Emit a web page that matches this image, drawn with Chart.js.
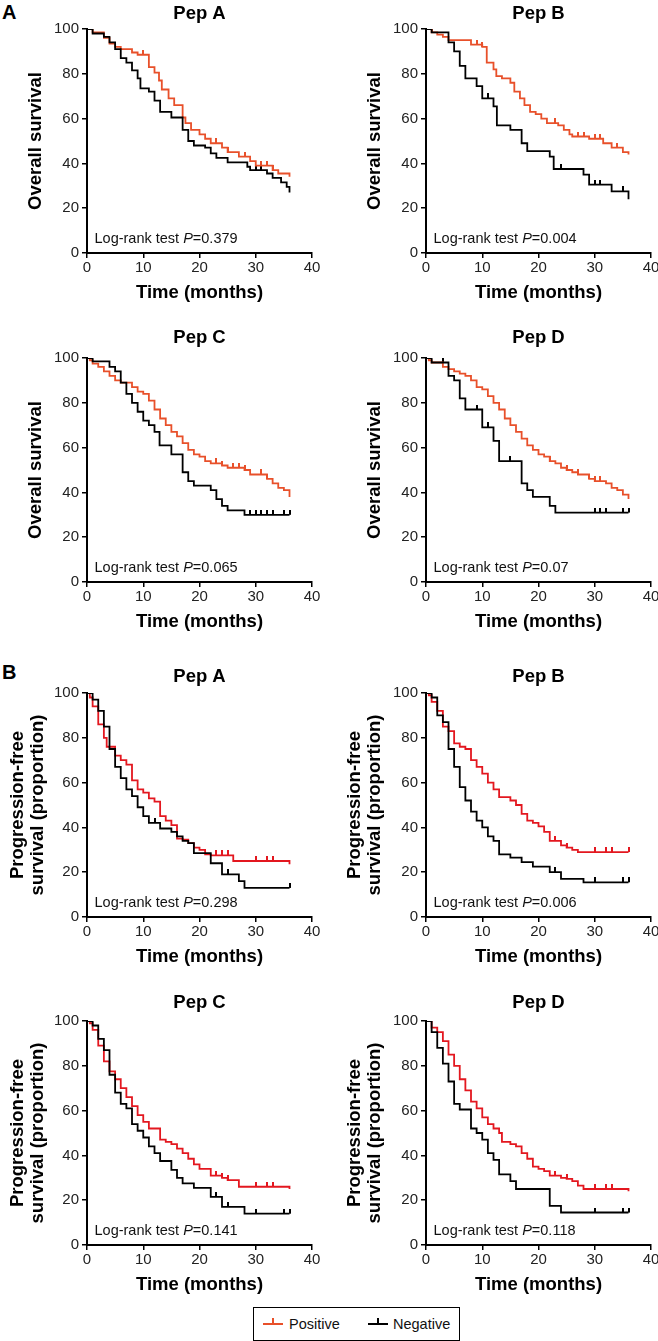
<!DOCTYPE html>
<html>
<head>
<meta charset="utf-8">
<script src="https://cdn.jsdelivr.net/npm/chart.js"></script>
<style>
html, body { margin: 0; padding: 0; background: #fff; width: 658px; height: 1341px; overflow: hidden; }
#fig { position: relative; width: 658px; height: 1341px; font-family: "Liberation Sans", Arial, sans-serif; }
#fig canvas { position: absolute; }
.sec { position: absolute; left: 2px; font-size: 20px; font-weight: bold; line-height: 20px; color: #000; }
#legend { position: absolute; left: 253px; top: 1307px; width: 207px; height: 34px; border: 1px solid #000; box-sizing: border-box; font-size: 14.5px; color: #111; }
#legend .mk { position: absolute; top: 15px; width: 20px; height: 2px; background: currentColor; }
#legend .mk::after { content: ""; position: absolute; left: 9px; top: -5px; width: 2px; height: 5px; background: currentColor; }
#legend .lt { position: absolute; top: 0; line-height: 32px; }
</style>
</head>
<body>
<div id="fig">
  <div class="sec" style="top:2px">A</div>
  <div class="sec" style="top:662px">B</div>
  <div id="legend">
    <span class="mk" style="left:9px;color:#e8502a"></span><span class="lt" style="left:35px">Positive</span>
    <span class="mk" style="left:114px;color:#000"></span><span class="lt" style="left:139px">Negative</span>
  </div>
</div>
<script>
// Kaplan-Meier curves: [month, survival %]
// A - overall survival
const osA_pos = [[0,100],[1,98.5],[3,96],[4,93.5],[5,92],[6,91],[8,89.5],[9,88.5],[11,83],[12,80.5],[12.8,77],[13.3,73],[14.5,69],[15.5,66],[17,60.5],[17.5,58],[18.5,55],[20,53],[21,51],[22,49],[24,47],[25,45],[27,43],[29,41],[30,39],[33,37],[34,35.5],[36,34]];
const osA_neg = [[0,100],[1,98],[3,96.5],[4,94],[5,91],[6,87],[7,85],[8,81.5],[9,78],[9.5,73.5],[11,72],[12,68],[13,63],[15,60.5],[17,55],[18,50],[19,48],[21,47],[22,44.5],[23,42.5],[25,40.5],[28.5,38.5],[29,37],[32,35.5],[33,33.5],[34.5,31.5],[35.5,29.5],[36,27]];
const osA_posC = [10, 23, 25, 28, 31, 32, 33];
const osA_negC = [30, 31];

const osB_pos = [[0,100],[1,98.5],[2,97.5],[3,96.5],[4,95],[8,93],[10,92],[10.8,85],[12,82],[12.5,79],[13.5,78],[15,76],[15.7,72],[16.7,69],[17.5,66],[18.5,63],[19.5,62],[20.5,60],[21.5,58],[23.5,57],[24.5,55],[25.5,53],[26,52],[29,51],[31.5,49],[33,47],[35,45],[36,44]];
const osB_neg = [[0,100],[1,98.5],[4,94],[5,90],[6,83.5],[7,78],[9,74.5],[10,69],[12,65.5],[12.6,57],[15,55],[17,49],[18,45.5],[22,43],[22.7,37.5],[28,35],[29,30.5],[33,27.5],[36,24]];
const osB_posC = [1, 9, 10, 23, 27, 28, 30, 31, 34];
const osB_negC = [11, 24, 30, 31, 35];

const osC_pos = [[0,100],[0.5,99],[1,97.5],[2,96],[3,94],[4,92],[5,90],[6,89],[8,87],[9,85],[10,84],[11,81],[12,77],[13,73],[14,70],[15,67],[16,65],[17,62],[18,59],[19,57],[20,56],[21,54],[22,53],[24,52],[25,51],[28,50],[29,48],[32,46],[33,44],[34,42],[35,41],[36,38]];
const osC_neg = [[0,100],[1,98.5],[4,96],[5,94],[6,89],[7,84],[8,80],[9,76],[10,72],[11,70],[12,67],[12.9,61],[15,57],[17,49],[18,45],[19,43],[22,41],[23,37],[24,34],[25,32],[28,30],[36,30]];
const osC_posC = [23, 24, 26, 27, 28, 31, 32];
const osC_negC = [29, 30, 31, 32, 33, 35, 36];

const osD_pos = [[0,100],[0.5,99],[1,98],[3,96],[4,95],[5,94],[6,93],[7,92],[8,90],[9,87],[10,86],[11,83],[12,80],[13,77],[14,73],[15,70],[16,67],[17,64],[18,61],[19,59],[20,57],[21,56],[22,54],[23,53],[24,51],[25,50],[26,49],[27,48],[29,46],[30,45],[32,44],[33,42],[34,41],[35,39],[36,37]];
const osD_neg = [[0,100],[1,98],[4,92],[5,90],[6,82],[7,77],[10,69],[12,63],[13,54],[17,44],[18,41],[19,38],[22,34],[23,31],[36,31]];
const osD_posC = [22, 25, 27, 29, 30, 31];
const osD_negC = [3, 9, 11, 15, 30, 31, 32, 35, 36];

// B - progression-free survival
const pfsA_pos = [[0,100],[0.5,98],[1,94],[2,86],[3,80],[3.5,76],[5,72],[6,70],[7,68],[8,61],[9,57],[10,55.5],[11,53],[12,51.5],[13,45],[14,43],[15,41],[16,35],[17,34.5],[18,33],[19,31],[20,30],[21,28],[22,27.5],[26,25],[36,23.5]];
const pfsA_neg = [[0,100],[1,97],[2,92],[3,85],[4,75],[5,67],[6,62],[7,57],[8,54],[9,49],[10,45],[11,42],[13,39.5],[15,38],[16,36],[17,34],[18,33],[19,28.5],[22,24],[24,19],[27,16],[28,13],[36,13]];
const pfsA_posC = [23, 24, 25, 30, 32, 33];
const pfsA_negC = [12, 25, 36];

const pfsB_pos = [[0,100],[0.5,99],[1,96],[2,92],[3,85],[4,83],[5,77.5],[6,76],[7,75],[8,70],[9,67],[10,64],[11,60],[12,57],[13,53.5],[15,52],[16,50],[17,46],[18,43],[19,42],[20,40.5],[21,38],[22,34],[24,32],[25,31],[26,30],[27,29],[36,29]];
const pfsB_neg = [[0,100],[1,98],[2,90],[3,87],[4,75],[5,67],[6,58],[7,52],[8,47],[9,43],[10,40],[11,36],[12,34],[13,28],[15,26.5],[17,24.5],[19,22.5],[22,20],[24,17],[28,15.5],[36,15.5]];
const pfsB_posC = [23, 25, 30, 32, 33, 36];
const pfsB_negC = [23, 30, 35, 36];

const pfsC_pos = [[0,100],[0.5,99],[1,96],[2,89],[3,82],[4,77.5],[5,74],[6,70],[7,66],[8,62],[9,58],[10,55],[11,52],[13,47],[14,46],[15,45],[16,43],[17,41],[18,38.5],[19,36],[20,34],[22,31],[24,30],[25,29],[27,26],[36,25]];
const pfsC_neg = [[0,100],[1,98],[2,92],[3,87],[4,76],[5,68],[6,63],[7,61],[8,54],[9,51],[10,48],[11,44],[12,41],[13,37.5],[15,33.5],[16,30],[17,27.5],[19,25.5],[22,21.5],[24,17],[28,14],[36,14]];
const pfsC_posC = [23, 24, 25, 30, 32, 33];
const pfsC_negC = [23, 25, 30, 35, 36];

const pfsD_pos = [[0,100],[1,97],[2,95],[3,91],[4,85],[5,80],[6,74],[7,69],[8,64],[9,61],[10,57],[11,54],[12,52],[13,50],[13.5,46],[15,45],[16,44],[17,41],[18,38.5],[19,35],[20,34],[21,33],[22,31],[24,30],[25,29.5],[26,28.5],[27,26.5],[28,25],[36,24]];
const pfsD_neg = [[0,100],[1,95],[2,88],[3,81],[4,73],[5,63],[6,60.5],[8,52],[9,50],[10,47],[11,41],[12,38],[13,31.5],[15,28.5],[16,25],[22,17.5],[24,14.5],[36,14.5]];
const pfsD_posC = [23, 25, 30, 32, 33];
const pfsD_negC = [30, 35, 36];

const titles = ['Pep A', 'Pep B', 'Pep C', 'Pep D'];
const osP = ['0.379', '0.004', '0.065', '0.07'];
const pfsP = ['0.298', '0.006', '0.141', '0.118'];
const xTicks = [0, 10, 20, 30, 40];
const yTicks = [0, 20, 40, 60, 80, 100];

const RED_A = '#e8502a';
const RED_B = '#e3171f';
const FONT = '"Liberation Sans", Arial, sans-serif';
Chart.defaults.font.family = FONT;

const panels = [
  { title: titles[0], pos: osA_pos, neg: osA_neg, posC: osA_posC, negC: osA_negC, p: osP[0], sec: 'A', row: 0, col: 0 },
  { title: titles[1], pos: osB_pos, neg: osB_neg, posC: osB_posC, negC: osB_negC, p: osP[1], sec: 'A', row: 0, col: 1 },
  { title: titles[2], pos: osC_pos, neg: osC_neg, posC: osC_posC, negC: osC_negC, p: osP[2], sec: 'A', row: 1, col: 0 },
  { title: titles[3], pos: osD_pos, neg: osD_neg, posC: osD_posC, negC: osD_negC, p: osP[3], sec: 'A', row: 1, col: 1 },
  { title: titles[0], pos: pfsA_pos, neg: pfsA_neg, posC: pfsA_posC, negC: pfsA_negC, p: pfsP[0], sec: 'B', row: 2, col: 0 },
  { title: titles[1], pos: pfsB_pos, neg: pfsB_neg, posC: pfsB_posC, negC: pfsB_negC, p: pfsP[1], sec: 'B', row: 2, col: 1 },
  { title: titles[2], pos: pfsC_pos, neg: pfsC_neg, posC: pfsC_posC, negC: pfsC_negC, p: pfsP[2], sec: 'B', row: 3, col: 0 },
  { title: titles[3], pos: pfsD_pos, neg: pfsD_neg, posC: pfsD_posC, negC: pfsD_negC, p: pfsP[3], sec: 'B', row: 3, col: 1 }
];

// layout of the grid
const rowTop = [0, 329, 664, 992];
const titleGap = [15.5, 19.7, 16.2, 17.9];
const CW = 329, CH = 305, HEAD = 29, FOOT = 52;

function toXY(curve) {
  return curve.map(d => ({ x: d[0], y: d[1] }));
}

// value of the step curve at time t
function stepAt(curve, t) {
  let v = curve[0][1];
  for (const d of curve) {
    if (d[0] <= t) v = d[1];
  }
  return v;
}

function censored(times, curve) {
  return times.map(t => ({ x: t, y: stepAt(curve, t) }));
}

// small upward tick used as censor mark
function tickMark(color) {
  const c = document.createElement('canvas');
  c.width = 2; c.height = 10;
  const g = c.getContext('2d');
  g.fillStyle = color;
  g.fillRect(0, 0, 2, 5);
  return c;
}

const logRankText = {
  id: 'logRankText',
  afterDraw(chart, args, opts) {
    const { ctx, chartArea } = chart;
    const x = chartArea.left + 7.5;
    const y = chartArea.bottom - 14;
    ctx.save();
    ctx.fillStyle = '#111';
    ctx.textBaseline = 'middle';
    ctx.font = '14.5px ' + FONT;
    const a = 'Log-rank test ';
    ctx.fillText(a, x, y);
    let w = ctx.measureText(a).width;
    ctx.font = 'italic 14.5px ' + FONT;
    ctx.fillText('P', x + w, y);
    w += ctx.measureText('P').width;
    ctx.font = '14.5px ' + FONT;
    ctx.fillText('=' + opts.p, x + w, y);
    ctx.restore();
  }
};

const fig = document.getElementById('fig');

panels.forEach(p => {
  const cv = document.createElement('canvas');
  cv.width = CW; cv.height = CH;
  cv.style.left = (p.col === 0 ? 0 : CW) + 'px';
  cv.style.top = rowTop[p.row] + 'px';
  cv.style.width = CW + 'px';
  cv.style.height = CH + 'px';
  fig.appendChild(cv);

  const red = p.sec === 'A' ? RED_A : RED_B;
  const tPad = HEAD - titleGap[p.row] - 9.25;
  const yTitle = p.sec === 'A'
    ? { display: true, text: 'Overall survival', color: '#000',
        font: { size: 18.5, weight: 'bold', lineHeight: 1.2 },
        padding: { top: p.col === 0 ? 24.9 : 34.4, bottom: 0 } }
    : { display: true, text: ['Progression-free', 'survival (proportion)'], color: '#000',
        font: { size: 18.5, weight: 'bold', lineHeight: 1.1 },
        padding: { top: p.col === 0 ? 7.5 : 15.5, bottom: 0 } };

  new Chart(cv, {
    type: 'line',
    data: {
      datasets: [
        { data: toXY(p.neg), borderColor: '#000', borderWidth: 1.8, stepped: true, pointRadius: 0, fill: false },
        { data: toXY(p.pos), borderColor: red, borderWidth: 1.8, stepped: true, pointRadius: 0, fill: false },
        { data: censored(p.negC, p.neg), showLine: false, pointStyle: tickMark('#000'), pointRadius: 3 },
        { data: censored(p.posC, p.pos), showLine: false, pointStyle: tickMark(red), pointRadius: 3 }
      ]
    },
    options: {
      responsive: false,
      animation: false,
      devicePixelRatio: 1,
      events: [],
      layout: { padding: { left: 0, right: p.col === 0 ? 17 : 7, top: 0, bottom: 0 } },
      plugins: {
        legend: { display: false },
        tooltip: { enabled: false },
        title: {
          display: true, text: p.title, fullSize: false, color: '#000',
          font: { size: 18.5, weight: 'bold', lineHeight: 1 },
          padding: { top: tPad, bottom: HEAD - 18.5 - tPad }
        },
        logRankText: { p: p.p }
      },
      scales: {
        x: {
          type: 'linear', min: 0, max: 40,
          afterBuildTicks: s => { s.ticks = xTicks.map(v => ({ value: v })); },
          ticks: { color: '#222', font: { size: 15 }, padding: 1, maxRotation: 0 },
          grid: { display: true, drawOnChartArea: false, drawTicks: true, tickLength: 5, color: '#000', lineWidth: 1.5 },
          border: { display: true, color: '#000', width: 2 },
          title: { display: true, text: 'Time (months)', color: '#000',
                   font: { size: 18.5, weight: 'bold', lineHeight: 1.2 }, padding: { top: 0, bottom: 0.9 } },
          afterFit: s => { s.height = FOOT; s.paddingLeft = 0; s.paddingRight = 0; }
        },
        y: {
          type: 'linear', min: 0, max: 100,
          afterBuildTicks: s => { s.ticks = yTicks.map(v => ({ value: v })); },
          ticks: { color: '#222', font: { size: 15 }, padding: 3 },
          grid: { display: true, drawOnChartArea: false, drawTicks: true, tickLength: 5, color: '#000', lineWidth: 1.5 },
          border: { display: true, color: '#000', width: 2 },
          title: yTitle,
          afterFit: s => { s.width = p.col === 0 ? 87 : 97; }
        }
      }
    },
    plugins: [logRankText]
  });
});
</script>
</body>
</html>
